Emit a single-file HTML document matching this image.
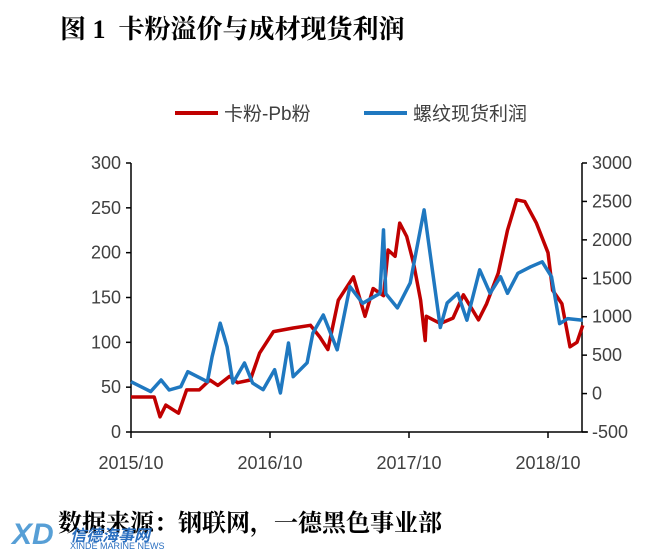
<!DOCTYPE html>
<html><head><meta charset="utf-8"><style>
body{margin:0;background:#fff;width:670px;height:558px;overflow:hidden;position:relative;font-family:"Liberation Sans","Noto Sans CJK SC",sans-serif}
.t{position:absolute;white-space:nowrap}
</style></head><body>
<div class="t" style="left:60px;top:9px;font-size:26px;font-weight:bold;font-family:'Liberation Serif','Noto Serif CJK SC',serif">图 1&nbsp; 卡粉溢价与成材现货利润</div>
<svg id="c" width="670" height="558" style="position:absolute;left:0;top:0"></svg>
<div class="t" style="left:58px;top:503px;font-size:24px;font-weight:bold;font-family:'Noto Serif CJK SC',serif">数据来源：钢联网，一德黑色事业部</div>
<div class="t" style="left:12px;top:518px;font-size:30px;font-weight:bold;font-style:italic;color:#3a8fd0;opacity:.85">XD</div>
<div class="t" style="left:70px;top:522px;font-size:16px;font-weight:bold;font-style:italic;color:#2a6fc0">信德海事网</div>
<div class="t" style="left:70px;top:541px;font-size:9px;color:#2a6fc0">XINDE MARINE NEWS</div>
<script>
const redMonths=[0,2,2.5,3,4.1,4.8,5.9,6.8,7.5,8.5,9.2,10.3,11.1,12.3,14,15.5,16.3,17,17.9,19.2,20.2,20.9,21.8,22.2,22.8,23.2,23.8,24.4,25,25.4,25.5,26.7,27.8,28.7,30,30.7,31.7,32.5,33.3,34,35,36,36.4,37.2,37.9,38.5,39];
const redValues=[39,39,17,30,21,47,47,58,52,62,55,58,88,112,116,119,106,92,147,173,129,160,152,203,196,233,218,188,147,102,129,121,127,153,125,143,177,225,259,257,233,200,158,143,95,100,119];
const blueMonths=[0,1.7,2.6,3.3,4.3,4.9,6.6,7,7.7,8.3,8.8,9.8,10.5,11.4,12.4,12.9,13.6,14,15.2,15.7,16.6,17.8,18.9,20,21.5,21.8,22,23,24.1,25.3,26.1,26.7,27.3,28.2,29,30.1,31,31.9,32.5,33.4,34.5,35.5,36.3,37,37.7,39];
const blueValues=[155,25,177,47,90,285,155,480,915,610,137,398,137,50,310,8,658,220,400,788,1022,570,1392,1175,1305,2130,1300,1115,1440,2390,1520,860,1180,1305,955,1610,1305,1520,1305,1565,1650,1715,1520,910,975,955];
const leftTicks=[0,50,100,150,200,250,300];
const rightTicks=[-500,0,500,1000,1500,2000,2500,3000];
const xLabels=["2015/10","2016/10","2017/10","2018/10"];
const xLabelMonths=[0,12,24,36];
const svg=document.getElementById('c');const NS='http://www.w3.org/2000/svg';
const X0=131,X1=582,Y0=432,Y1=163;
const xs=m=>X0+m*(139/12);
const yl=v=>Y0-(v/300)*(Y0-Y1);
const yr=v=>Y0-((v+500)/3500)*(Y0-Y1);
function mk(tag,attrs,parent){const e=document.createElementNS(NS,tag);for(const k in attrs)e.setAttribute(k,attrs[k]);(parent||svg).appendChild(e);return e;}
const axes=[[X0,Y1,X0,Y0],[X0,Y0,X1+6,Y0],[X1,Y1,X1,Y0]];
axes.forEach(a=>{const l=mk('line',{x1:a[0],y1:a[1],x2:a[2],y2:a[3],stroke:'#000','stroke-width':1.5});

});
leftTicks.forEach(v=>{const y=yl(v);mk('line',{x1:X0-5,y1:y,x2:X0,y2:y,stroke:'#000','stroke-width':1.5});
const t=mk('text',{x:X0-10,y:y+6,'text-anchor':'end','font-size':18,fill:'#404040','font-family':'Liberation Sans'});t.textContent=v;

});
rightTicks.forEach(v=>{const y=yr(v);mk('line',{x1:X1,y1:y,x2:X1+5,y2:y,stroke:'#000','stroke-width':1.5});
const t=mk('text',{x:X1+10,y:y+6,'font-size':18,fill:'#404040','font-family':'Liberation Sans'});t.textContent=v;

});
xLabels.forEach((s,i)=>{const x=xs(xLabelMonths[i]);mk('line',{x1:x,y1:Y0,x2:x,y2:Y0+6,stroke:'#000','stroke-width':1.5});
const t=mk('text',{x:x,y:Y0+37,'text-anchor':'middle','font-size':18,fill:'#404040','font-family':'Liberation Sans'});t.textContent=s;

});
const rp=redMonths.map((m,i)=>xs(m).toFixed(1)+','+yl(redValues[i]).toFixed(1)).join(' ');
const red=mk('polyline',{points:rp,fill:'none',stroke:'#c00000','stroke-width':3.5,'stroke-linejoin':'round'});


const bp=blueMonths.map((m,i)=>xs(m).toFixed(1)+','+yr(blueValues[i]).toFixed(1)).join(' ');
const blue=mk('polyline',{points:bp,fill:'none',stroke:'#1f78c0','stroke-width':3.5,'stroke-linejoin':'round'});


const g=mk('g',{});


mk('line',{x1:175,y1:113,x2:218,y2:113,stroke:'#c00000','stroke-width':4},g);
const t1=mk('text',{x:224,y:120,'font-size':19,fill:'#404040','font-family':'Liberation Sans, Noto Sans CJK SC'},g);t1.textContent='卡粉-Pb粉';


mk('line',{x1:364,y1:113,x2:407,y2:113,stroke:'#1f78c0','stroke-width':4},g);
const t2=mk('text',{x:413,y:120,'font-size':19,fill:'#404040','font-family':'Liberation Sans, Noto Sans CJK SC'},g);t2.textContent='螺纹现货利润';


</script>
</body></html>
